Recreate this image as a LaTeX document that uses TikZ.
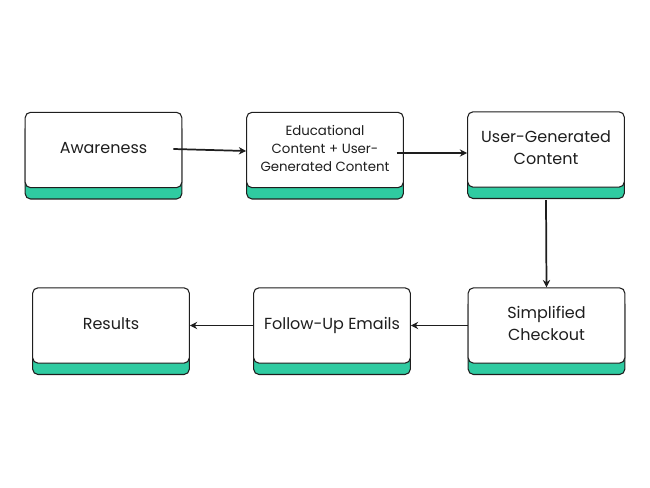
\documentclass[tikz,border=0pt]{standalone}
\usepackage{fontspec}
\setmainfont{Poppins}
\usetikzlibrary{arrows.meta}
\usetikzlibrary{shadows}
\usetikzlibrary{calc}
\definecolor{mint}{RGB}{47,203,161}
\definecolor{ink}{RGB}{30,30,30}

\begin{document}
\begin{tikzpicture}[x=0.75pt, y=-0.75pt,
  card/.style={draw=ink, line width=0.8pt, fill=white, rounded corners=4pt,
    minimum width=117.5pt, minimum height=56.5pt, align=center, text=ink,
    text depth=3pt,
    general shadow={fill=mint, draw=ink, line width=0.8pt, shadow yshift=-8.5pt}},
  flow/.style={-{Stealth[length=5.5pt,width=5.5pt]}, line width=1.3pt, ink}]

\useasboundingbox (0,0) rectangle (650,488);

%---------------------------------------
% Top row
%---------------------------------------
\node[card, font=\fontsize{12}{15}\selectfont] (aware) at (103.5,150) {Awareness};
\node[card, font=\fontsize{10}{13.5}\selectfont] (edu) at (325,150)
  {Educational\\Content + User-\\Generated Content};
\node[card, font=\fontsize{12}{16.5}\selectfont] (ugc) at (546,149.5)
  {User-Generated\\Content};

%---------------------------------------
% Bottom row
%---------------------------------------
\node[card, font=\fontsize{12}{15}\selectfont] (res) at (111,325.5) {Results};
\node[card, font=\fontsize{12}{15}\selectfont] (follow) at (332,325.5) {Follow-Up Emails};
\node[card, font=\fontsize{12}{16.5}\selectfont] (checkout) at (546.5,325.5)
  {Simplified\\Checkout};

%---------------------------------------
% Arrows
%---------------------------------------
\draw[flow] ($(aware.east)+(-9,-1)$) -- ($(edu.west)+(0,1)$);
\draw[flow] ($(edu.east)+(-7,3)$) -- ($(ugc.west)+(0,3.5)$);
\draw[flow] ($(ugc.south)+(0,12.5)$) -- (checkout.north);
\draw[flow] (checkout.west) -- (follow.east);
\draw[flow] (follow.west) -- (res.east);

\end{tikzpicture}
\end{document}
